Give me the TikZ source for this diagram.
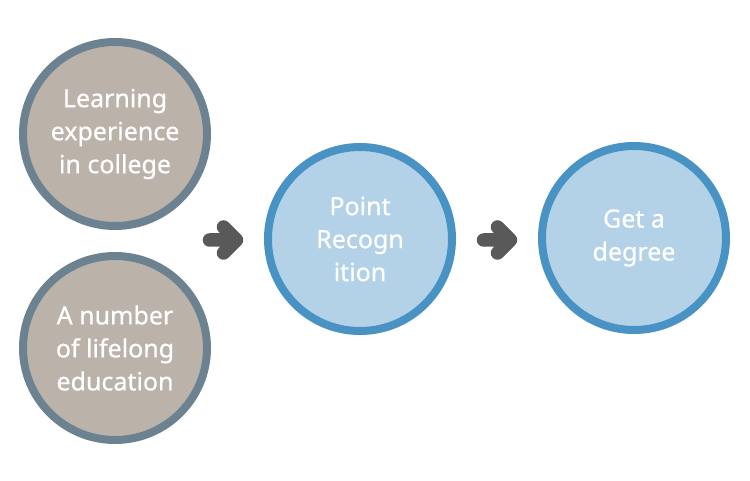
\documentclass[tikz,border=0pt]{standalone}
\usepackage{fontspec}
\setmainfont{Noto Sans}
\newfontfamily\bubblefont[FakeBold=0.6]{Noto Sans}
\usepackage{tikz}
\usetikzlibrary{calc}
\usetikzlibrary{positioning}

\definecolor{stonefill}{HTML}{BBB3AA}
\definecolor{stoneline}{HTML}{6C8290}
\definecolor{skyfill}{HTML}{B3D2E7}
\definecolor{skyline}{HTML}{4893C3}
\definecolor{chevgray}{HTML}{595959}

\tikzset{
  bubble/.style={circle, minimum size=184pt, inner sep=0pt, line width=8pt, text=white, align=center, font=\bubblefont\fontsize{25}{33}\selectfont},
  stone/.style={bubble, draw=stoneline, fill=stonefill},
  sky/.style={bubble, draw=skyline, fill=skyfill},
  chevron/.style={draw=chevgray, line width=13.5pt, line cap=round, line join=round}
}

\begin{document}
\begin{tikzpicture}[x=1pt, y=1pt]
  \useasboundingbox (0,0) rectangle (750,480); % marges
  \node [stone] (learn) at (115,346) {Learning\\experience\\in college}; % cercle haut
  \node [stone] (lifelong) at (115,132) {A number\\of lifelong\\education}; % cercle bas
  \node [sky] (recog) at (360,241) {Point\\Recogn\\ition}; % cercle milieu
  \node [sky] (degree) at (634,242) {Get a\\degree}; % cercle droite
  \coordinate (tipA) at ($(recog.west)+(-27.5,-1)$); % pointe fleche 1
  \coordinate (tipB) at ($(degree.west)+(-27.5,-2)$); % pointe fleche 2
  \draw [chevron] ($(tipA)+(-13,13)$) -- (tipA) -- ($(tipA)+(-13,-13)$) (tipA) -- ++(-27,0);
  \draw [chevron] ($(tipB)+(-13,13)$) -- (tipB) -- ($(tipB)+(-13,-13)$) (tipB) -- ++(-27,0);
\end{tikzpicture}
\end{document}
